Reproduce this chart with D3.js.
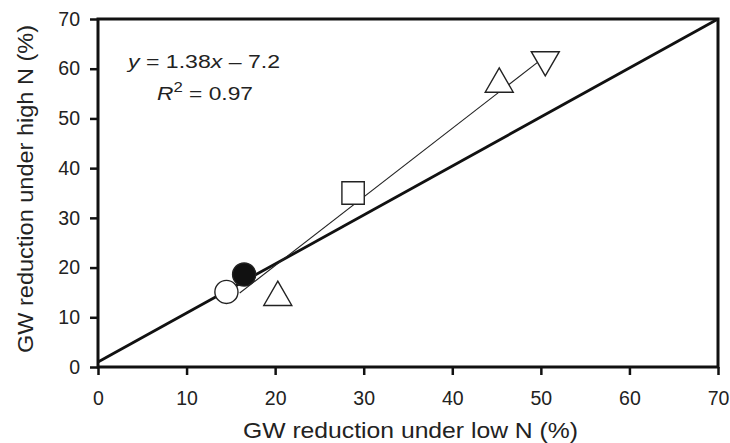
<!DOCTYPE html>
<html>
<head>
<meta charset="utf-8">
<script src="https://cdn.jsdelivr.net/npm/d3@7"></script>
<style>
  body { margin: 0; background: #fff; }
  text { font-family: "Liberation Sans", Arial, sans-serif; fill: #222; }
</style>
</head>
<body>
<script>
var width = 730;
var height = 443;
var margin = {left: 98, right: 10, top: 19, bottom: 76};

// data points: low N reduction (x), high N reduction (y), marker type
var pointX = [14.5, 16.5, 20.3, 28.8, 45.3, 50.5];
var pointY = [15.1, 18.6, 14.0, 35.0, 56.9, 61.8];
var pointShape = ["circleOpen", "circleFilled", "triUp", "square", "triUp", "triDown"];

var tickValues = [0, 10, 20, 30, 40, 50, 60, 70];

// 1:1 line and regression y = 1.38x - 7.2
var oneToOneX = [0, 70];
var oneToOneY = [1, 70];
var regSlope = 1.38;
var regIntercept = -7.2;
var regRange = [16, 50.5];

var svg = d3.select("body")
            .append("svg")
            .attr("width", width)
            .attr("height", height);

var x = d3.scaleLinear().domain([0, 70]).range([margin.left, width - margin.right - 2]);
var y = d3.scaleLinear().domain([0, 70]).range([height - margin.bottom, margin.top]);

// axes
var xAxis = d3.axisBottom(x).tickValues(tickValues).tickSize(8).tickPadding(16);
var yAxis = d3.axisLeft(y).tickValues(tickValues).tickSize(8).tickPadding(10);

var gx = svg.append("g")
   .attr("transform", "translate(0," + y(0) + ")")
   .call(xAxis);
var gy = svg.append("g")
   .attr("transform", "translate(" + x(0) + ",0)")
   .call(yAxis);

[gx, gy].forEach(function(g) {
  g.select(".domain").remove();
  g.selectAll(".tick line").attr("stroke", "#111").attr("stroke-width", 2.5);
  g.selectAll(".tick text").style("font-size", "19.5px").attr("fill", "#333");
});

// frame
svg.append("rect")
   .attr("x", x(0))
   .attr("y", y(70))
   .attr("width", x(70) - x(0))
   .attr("height", y(0) - y(70))
   .attr("fill", "none")
   .attr("stroke", "#111")
   .attr("stroke-width", 3);

// 1:1 line
svg.append("line")
   .attr("x1", x(oneToOneX[0]))
   .attr("y1", y(oneToOneY[0]))
   .attr("x2", x(oneToOneX[1]))
   .attr("y2", y(oneToOneY[1]))
   .attr("stroke", "#111")
   .attr("stroke-width", 2.8);

// regression line
svg.append("line")
   .attr("x1", x(regRange[0]))
   .attr("y1", y(regSlope * regRange[0] + regIntercept))
   .attr("x2", x(regRange[1]))
   .attr("y2", y(regSlope * regRange[1] + regIntercept))
   .attr("stroke", "#222")
   .attr("stroke-width", 1.1);

var points = pointX.map(function(d, i) {
  return {x: d, y: pointY[i], shape: pointShape[i]};
});

var symbolSize = {circleOpen: 420, circleFilled: 420, square: 500, triUp: 340, triDown: 340};

var marks = svg.selectAll("path.mark")
   .data(points)
   .enter()
   .append("path")
   .attr("class", "mark")
   .attr("transform", function(d) {
     var t = "translate(" + x(d.x) + "," + y(d.y) + ")";
     if (d.shape == "triDown") t += " rotate(180)";
     return t;
   })
   .attr("d", function(d) {
     var type = d3.symbolCircle;
     if (d.shape == "square") type = d3.symbolSquare;
     if (d.shape == "triUp" || d.shape == "triDown") type = d3.symbolTriangle;
     return d3.symbol().type(type).size(symbolSize[d.shape])();
   })
   .attr("fill", function(d) { return d.shape == "circleFilled" ? "#111" : "#fff"; })
   .attr("stroke", "#222")
   .attr("stroke-width", 1.4);

// equation
var eq = svg.append("text")
   .attr("x", 128)
   .attr("y", 68)
   .attr("textLength", 152)
   .attr("lengthAdjust", "spacingAndGlyphs")
   .style("font-size", "19px");
eq.append("tspan").style("font-style", "italic").text("y");
eq.append("tspan").text(" = 1.38");
eq.append("tspan").style("font-style", "italic").text("x");
eq.append("tspan").text(" \u2013 7.2");

var r2 = svg.append("text")
   .attr("x", 157)
   .attr("y", 100)
   .attr("textLength", 96)
   .attr("lengthAdjust", "spacingAndGlyphs")
   .style("font-size", "19px");
r2.append("tspan").style("font-style", "italic").text("R");
r2.append("tspan").attr("dy", -8).style("font-size", "14px").text("2");
r2.append("tspan").attr("dy", 8).text(" = 0.97");

// axis titles
svg.append("text")
   .attr("x", 243)
   .attr("y", 438)
   .attr("textLength", 335)
   .attr("lengthAdjust", "spacingAndGlyphs")
   .style("font-size", "22px")
   .text("GW reduction under low N (%)");

svg.append("text")
   .attr("transform", "translate(33,353) rotate(-90)")
   .attr("textLength", 328)
   .attr("lengthAdjust", "spacingAndGlyphs")
   .style("font-size", "22px")
   .text("GW reduction under high N (%)");
</script>
</body>
</html>
